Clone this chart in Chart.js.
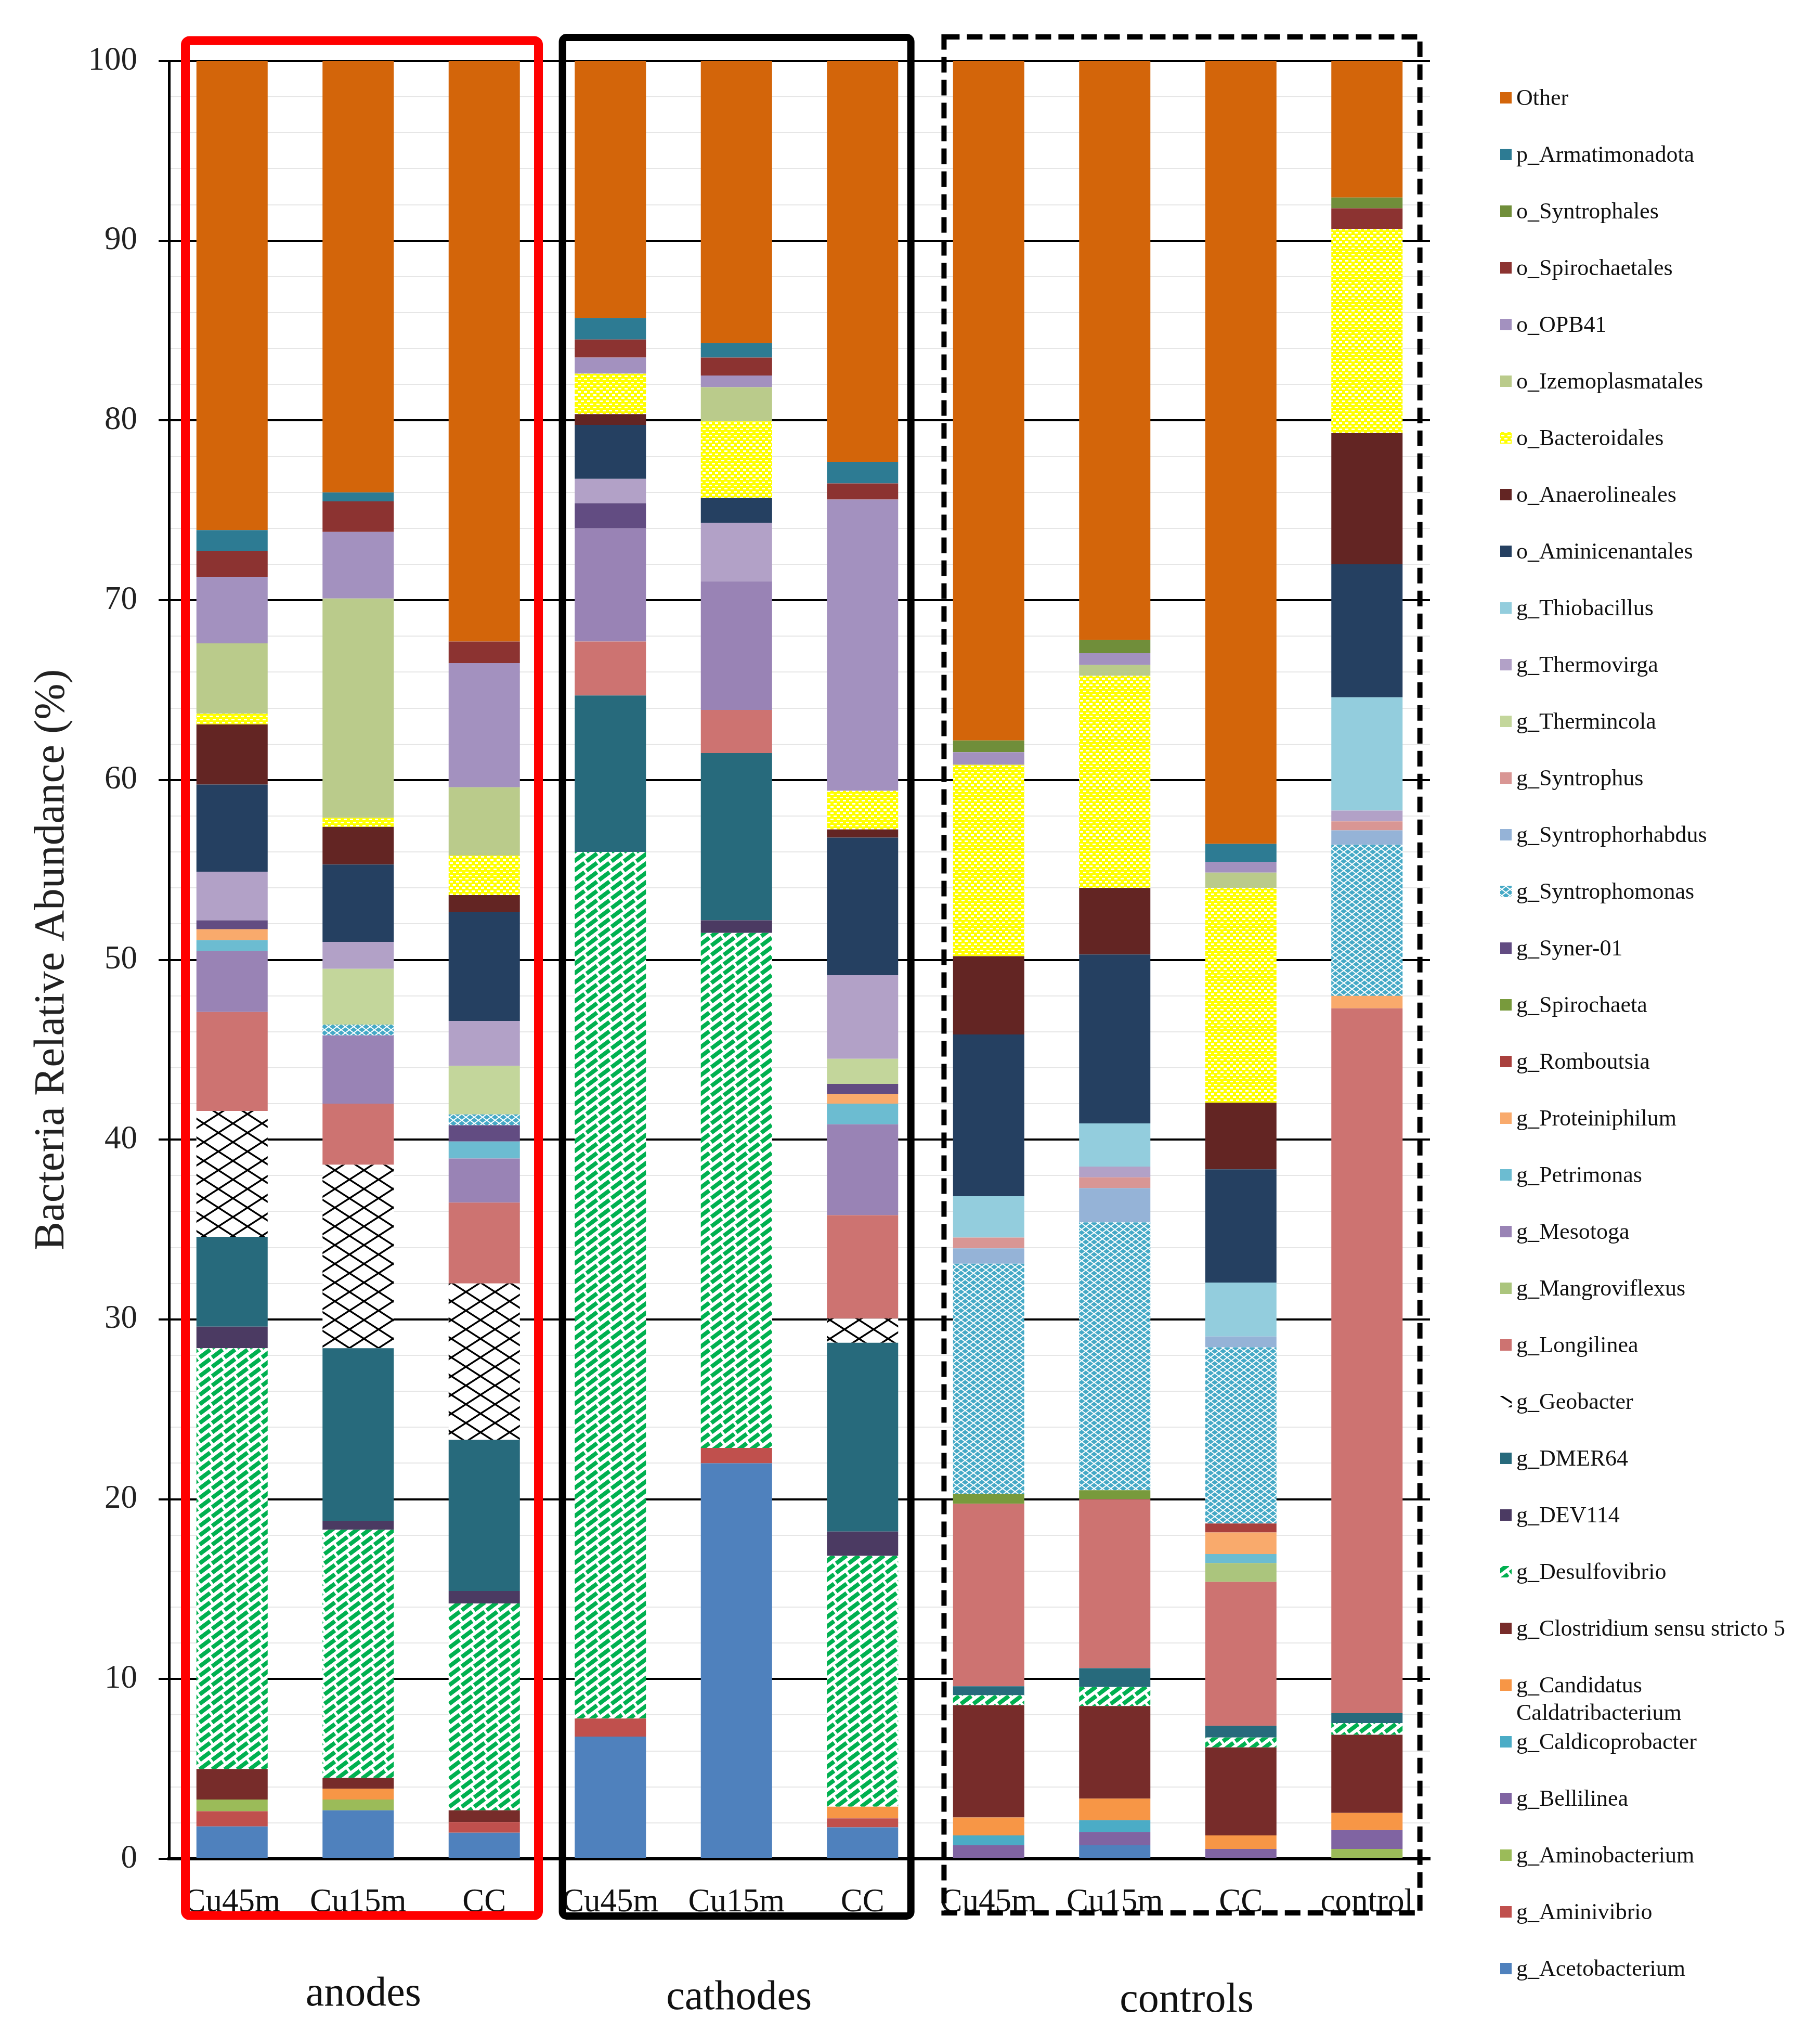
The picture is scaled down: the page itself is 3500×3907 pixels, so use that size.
<!DOCTYPE html>
<html><head><meta charset="utf-8">
<script src="https://cdn.jsdelivr.net/npm/chart.js@4.4.1/dist/chart.umd.min.js"></script>
<style>html,body{margin:0;padding:0;background:#fff}canvas{display:block}</style>
</head><body>
<canvas id="c" width="3500" height="3907"></canvas>
<script>
// ---------- DATA ----------
const categories = ['Cu45m','Cu15m','CC','Cu45m','Cu15m','CC','Cu45m','Cu15m','CC','control'];
const groupNames = ['anodes','cathodes','controls'];
const groupMembers = [[0,1,2],[3,4,5],[6,7,8,9]];
const yTickLabels = [0,10,20,30,40,50,60,70,80,90,100];
const yTitle = 'Bacteria Relative Abundance (%)';

// series (stacked bottom -> top), values in % per category
const acetobacterium    = [1.8, 2.7, 1.45, 6.8, 22.0, 1.75, 0, 0.75, 0, 0];
const aminivibrio       = [0.85, 0, 0.6, 1.0, 0.85, 0.5, 0, 0, 0, 0];
const aminobacterium    = [0.65, 0.6, 0, 0, 0, 0, 0, 0, 0, 0.55];
const bellilinea        = [0, 0, 0, 0, 0, 0, 0.75, 0.75, 0.55, 1.05];
const caldicoprobacter  = [0, 0, 0, 0, 0, 0, 0.55, 0.65, 0, 0];
const caldatribacterium = [0, 0.6, 0, 0, 0, 0.65, 1.0, 1.2, 0.75, 0.95];
const clostridium5      = [1.7, 0.6, 0.65, 0, 0, 0, 6.25, 5.15, 4.9, 4.35];
const desulfovibrio     = [23.4, 13.8, 11.5, 48.2, 28.65, 13.95, 0.55, 1.05, 0.55, 0.65];
const dev114            = [1.2, 0.5, 0.7, 0, 0.7, 1.35, 0, 0, 0, 0];
const dmer64            = [5.0, 9.6, 8.4, 8.7, 9.3, 10.5, 0.5, 1.05, 0.65, 0.55];
const geobacter         = [7.0, 10.2, 8.7, 0, 0, 1.35, 0, 0, 0, 0];
const longilinea        = [5.5, 3.4, 4.5, 3.0, 2.4, 5.75, 10.15, 9.4, 8.0, 39.2];
const mangroviflexus    = [0, 0, 0, 0, 0, 0, 0, 0, 1.05, 0];
const mesotoga          = [3.4, 3.8, 2.45, 6.3, 7.15, 5.05, 0, 0, 0, 0];
const petrimonas        = [0.6, 0, 0.95, 0, 0, 1.15, 0, 0, 0.5, 0];
const proteiniphilum    = [0.6, 0, 0, 0, 0, 0.55, 0, 0, 1.2, 0.7];
const romboutsia        = [0, 0, 0, 0, 0, 0, 0, 0, 0.5, 0];
const spirochaeta       = [0, 0, 0, 0, 0, 0, 0.55, 0.5, 0, 0];
const syner01           = [0.5, 0, 0.9, 1.4, 0, 0.55, 0, 0, 0, 0];
const syntrophomonas    = [0, 0.6, 0.6, 0, 0, 0, 12.8, 14.9, 9.8, 8.4];
const syntrophorhabdus  = [0, 0, 0, 0, 0, 0, 0.85, 1.9, 0.6, 0.8];
const syntrophus        = [0, 0, 0, 0, 0, 0, 0.6, 0.6, 0, 0.5];
const thermincola       = [0, 3.1, 2.7, 0, 0, 1.4, 0, 0, 0, 0];
const thermovirga       = [2.7, 1.5, 2.5, 1.35, 3.25, 4.65, 0, 0.6, 0, 0.6];
const thiobacillus      = [0, 0, 0, 0, 0, 0, 2.3, 2.4, 3.0, 6.3];
const aminicenantales   = [4.85, 4.3, 6.05, 3.0, 1.4, 7.65, 9.0, 9.4, 6.3, 7.4];
const anaerolineales    = [3.35, 2.1, 0.95, 0.6, 0, 0.45, 4.35, 3.7, 3.7, 7.3];
const bacteroidales     = [0.6, 0.5, 2.2, 2.25, 4.25, 2.15, 10.65, 11.8, 11.95, 11.35];
const izemoplasmatales  = [3.9, 12.2, 3.8, 0, 1.9, 0, 0, 0.6, 0.85, 0];
const opb41             = [3.7, 3.7, 6.9, 0.9, 0.65, 16.2, 0.7, 0.65, 0.6, 0];
const spirochaetales    = [1.45, 1.7, 1.2, 1.0, 1.0, 0.9, 0, 0, 0, 1.15];
const syntrophales      = [0, 0, 0, 0, 0, 0, 0.65, 0.75, 0, 0.6];
const armatimonadota    = [1.15, 0.5, 0, 1.2, 0.8, 1.2, 0, 0, 1.0, 0];
const other             = [26.1, 24.0, 32.3, 14.3, 15.7, 22.3, 37.8, 32.2, 43.55, 7.6];

const taxa = ['g_Acetobacterium','g_Aminivibrio','g_Aminobacterium','g_Bellilinea','g_Caldicoprobacter',
  'g_Candidatus Caldatribacterium','g_Clostridium sensu stricto 5','g_Desulfovibrio','g_DEV114','g_DMER64',
  'g_Geobacter','g_Longilinea','g_Mangroviflexus','g_Mesotoga','g_Petrimonas','g_Proteiniphilum','g_Romboutsia',
  'g_Spirochaeta','g_Syner-01','g_Syntrophomonas','g_Syntrophorhabdus','g_Syntrophus','g_Thermincola',
  'g_Thermovirga','g_Thiobacillus','o_Aminicenantales','o_Anaerolineales','o_Bacteroidales',
  'o_Izemoplasmatales','o_OPB41','o_Spirochaetales','o_Syntrophales','p_Armatimonadota','Other'];
const seriesValues = [acetobacterium, aminivibrio, aminobacterium, bellilinea, caldicoprobacter,
  caldatribacterium, clostridium5, desulfovibrio, dev114, dmer64, geobacter, longilinea, mangroviflexus,
  mesotoga, petrimonas, proteiniphilum, romboutsia, spirochaeta, syner01, syntrophomonas, syntrophorhabdus,
  syntrophus, thermincola, thermovirga, thiobacillus, aminicenantales, anaerolineales, bacteroidales,
  izemoplasmatales, opb41, spirochaetales, syntrophales, armatimonadota, other];

// ---------- STYLES ----------
const mainCtx = document.getElementById('c').getContext('2d');
function tile(w, h, draw) {
  const c = document.createElement('canvas'); c.width = w; c.height = h;
  const g = c.getContext('2d'); draw(g, w, h);
  return mainCtx.createPattern(c, 'repeat');
}
const patGreen = tile(24, 18, (g, w, h) => {
  g.fillStyle = '#fff'; g.fillRect(0, 0, w, h);
  g.strokeStyle = '#00B050'; g.lineWidth = 8; g.setLineDash([25, 5]);
  for (const o of [-h, 0, h]) { g.beginPath(); g.moveTo(-w, 2*h + o); g.lineTo(2*w, -h + o); g.stroke(); }
});
const patBlack = tile(56, 36, (g, w, h) => {
  g.fillStyle = '#fff'; g.fillRect(0, 0, w, h);
  g.strokeStyle = '#000'; g.lineWidth = 3.5;
  g.beginPath(); g.moveTo(-w, -h); g.lineTo(2*w, 2*h); g.stroke();
  g.beginPath(); g.moveTo(-w, 2*h); g.lineTo(2*w, -h); g.stroke();
});
const patCyan = tile(16, 12, (g, w, h) => {
  g.fillStyle = '#45A9C6'; g.fillRect(0, 0, w, h);
  g.strokeStyle = '#fff'; g.lineWidth = 2;
  g.beginPath(); g.moveTo(-w, -h); g.lineTo(2*w, 2*h); g.stroke();
  g.beginPath(); g.moveTo(-w, 2*h); g.lineTo(2*w, -h); g.stroke();
});
const patYellow = tile(12, 12, (g, w, h) => {
  g.fillStyle = '#FFFF00'; g.fillRect(0, 0, w, h);
  g.fillStyle = '#fff';
  g.fillRect(1, 2, 6, 3); g.fillRect(7, 8, 6, 3); g.fillRect(-5, 8, 6, 3);
});
const seriesFills = ['#4F81BD','#C0504D','#9BBB59','#8064A2','#4BACC6','#F79646','#772C2A',patGreen,'#4B3A62',
  '#276A7C',patBlack,'#CD7371','#ABC57D','#9983B5','#6CBCD1','#F9AA6C','#A9403D','#789A3C','#624C82',patCyan,
  '#95B3D7','#D99694','#C3D69B','#B2A1C7','#93CDDD','#254061','#632523',patYellow,'#BACB8B','#A391BF',
  '#8C3331','#708E3A','#2D7B93','#D3650A'];

const SERIF = '"Liberation Serif", "Times New Roman", serif';

// ---------- DECORATION PLUGIN (group boxes, group labels, legend) ----------
const decor = {
  id: 'decor',
  afterDraw(chart) {
    const ctx = chart.ctx, x = chart.scales.x, area = chart.chartArea;
    const cw = x.getPixelForValue(1) - x.getPixelForValue(0);
    const px = i => x.getPixelForValue(i);
    ctx.save();
    // group boxes
    const boxes = [
      {l: px(0) - 0.37*cw, r: px(2) + 0.43*cw, t: area.top - 39, b: area.bottom + 109, c: '#FF0000', w: 17, dash: []},
      {l: px(3) - 0.38*cw, r: px(5) + 0.383*cw, t: area.top - 45, b: area.bottom + 110, c: '#000', w: 14, dash: []},
      {l: px(6) - 0.354*cw, r: px(9) + 0.42*cw, t: area.top - 46, b: area.bottom + 104, c: '#000', w: 10, dash: [30, 14]}
    ];
    boxes.forEach(bx => {
      ctx.strokeStyle = bx.c; ctx.lineWidth = bx.w; ctx.setLineDash(bx.dash);
      ctx.beginPath();
      if (ctx.roundRect && !bx.dash.length) ctx.roundRect(bx.l, bx.t, bx.r - bx.l, bx.b - bx.t, 8);
      else ctx.rect(bx.l, bx.t, bx.r - bx.l, bx.b - bx.t);
      ctx.stroke();
    });
    ctx.setLineDash([]);
    // group labels
    ctx.font = '80px ' + SERIF; ctx.fillStyle = '#111'; ctx.textAlign = 'center'; ctx.textBaseline = 'alphabetic';
    const gy = [3856, 3863, 3868];
    const gdx = [10, 5, 17];
    groupNames.forEach((g, k) => {
      const m = groupMembers[k];
      const cx = (px(m[0]) + px(m[m.length - 1])) / 2 + gdx[k];
      ctx.fillText(g, cx, gy[k]);
    });
    // legend (reverse order, top = last series)
    const ds = chart.data.datasets, n = ds.length;
    ctx.font = '44px ' + SERIF; ctx.textAlign = 'left';
    for (let k = 0; k < n; k++) {
      const d = ds[n - 1 - k];
      const cy = 188 + k * 109;
      ctx.fillStyle = d.backgroundColor;
      ctx.fillRect(2885, cy - 11, 22, 22);
      ctx.fillStyle = '#111';
      let lines = [d.label];
      if (ctx.measureText(d.label).width > 540) {
        const sp = d.label.lastIndexOf(' ');
        lines = [d.label.slice(0, sp), d.label.slice(sp + 1)];
      }
      lines.forEach((t, j) => ctx.fillText(t, 2916, cy + 14 + j * 53));
    }
    ctx.restore();
  }
};

// ---------- CHART ----------
new Chart(mainCtx, {
  type: 'bar',
  data: {
    labels: categories,
    datasets: taxa.map((name, i) => ({
      label: name, data: seriesValues[i], backgroundColor: seriesFills[i],
      borderWidth: 0, barPercentage: 0.565, categoryPercentage: 1.0, stack: 'all'
    }))
  },
  options: {
    responsive: false, animation: false, devicePixelRatio: 1,
    layout: {padding: {left: 0, right: 750, top: 117, bottom: 0}},
    plugins: {legend: {display: false}, tooltip: {enabled: false}, title: {display: false}},
    scales: {
      x: {
        stacked: true,
        grid: {display: false, drawTicks: false},
        border: {display: true, color: '#000', width: 6},
        ticks: {font: {family: SERIF, size: 63}, color: '#111', padding: 47, maxRotation: 0, autoSkip: false},
        afterFit: s => { s.height = 333; }
      },
      y: {
        stacked: true, min: 0, max: 100,
        border: {display: true, color: '#000', width: 5},
        grid: {
          color: c => (c.tick && yTickLabels.includes(c.tick.value)) ? '#000' : '#E6E6E6',
          lineWidth: c => (c.tick && yTickLabels.includes(c.tick.value)) ? 4 : 2,
          tickColor: c => (c.tick && yTickLabels.includes(c.tick.value)) ? '#000' : 'rgba(0,0,0,0)',
          tickLength: 20, drawTicks: true
        },
        ticks: {
          stepSize: 2, autoSkip: false, padding: 41, color: '#222',
          font: {family: SERIF, size: 63},
          callback: v => yTickLabels.includes(v) ? String(v) : ''
        },
        title: {display: true, text: yTitle, font: {family: SERIF, size: 83}, color: '#222', padding: {top: 50, bottom: 0}},
        afterFit: s => { s.width = 325; }
      }
    }
  },
  plugins: [decor]
});
</script>
</body></html>
